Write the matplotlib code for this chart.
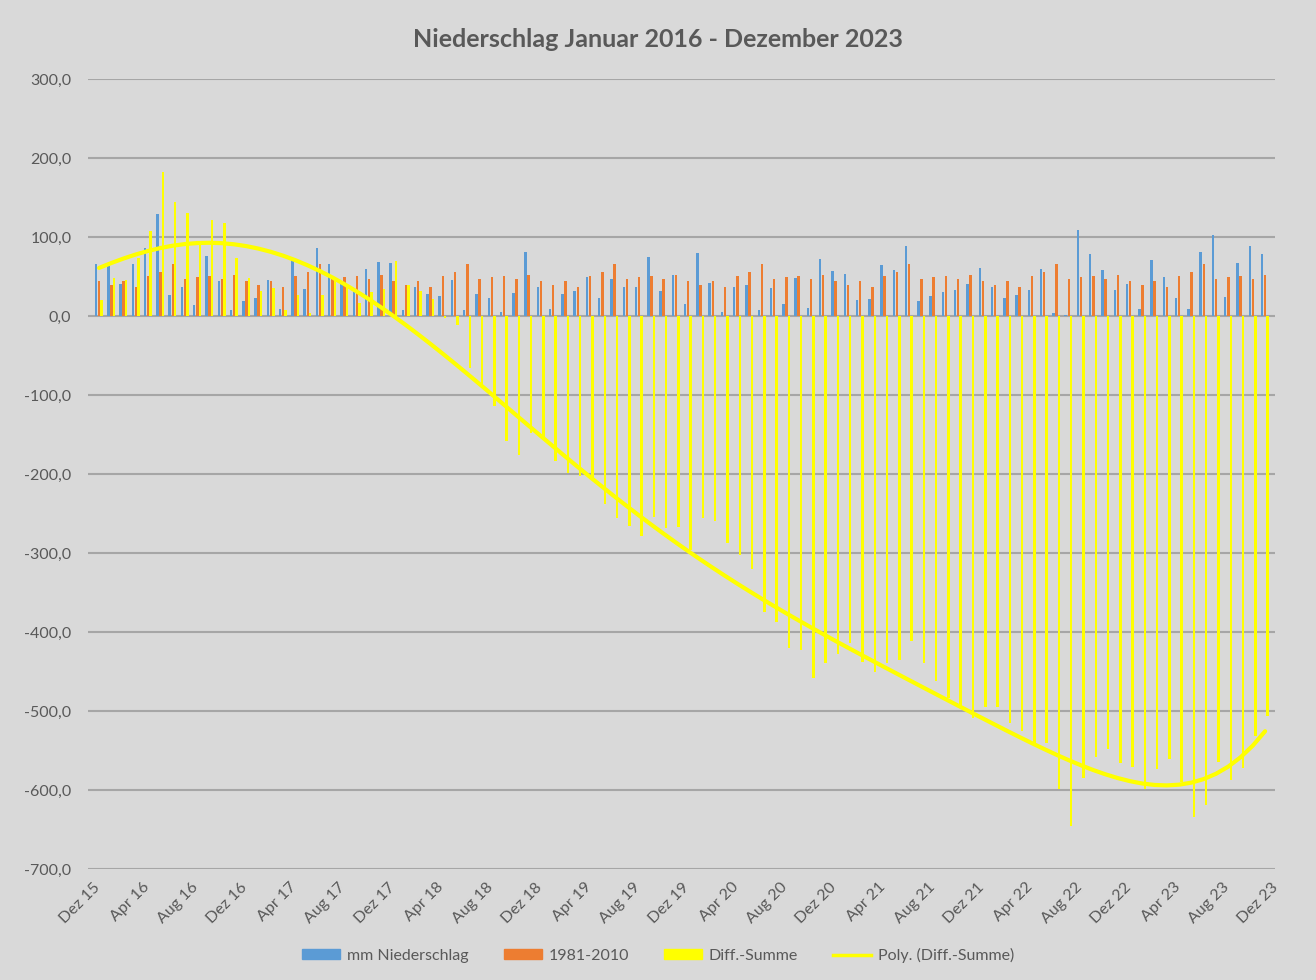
import numpy as np
import matplotlib.pyplot as plt
from matplotlib.ticker import FuncFormatter
from matplotlib.patches import Patch
from matplotlib.lines import Line2D

plt.rcParams['font.family'] = ['Lato', 'DejaVu Sans']

# Monatswerte Jan 2016 - Dez 2023 (mm)
niederschlag = [
    65.7, 63.5, 39.9, 65.7, 85.8, 128.8, 26.6, 36.5, 14.2, 76.4, 43.8, 7.3,
    19.3, 23.2, 45.9, 9.4, 70.8, 33.9, 85.8, 65.7, 39.9, 30.0, 59.2, 67.8,
    66.5, 8.2, 36.5, 27.9, 25.3, 45.9, 8.2, 27.9, 22.3, 5.6, 29.2, 81.1,
    36.5, 9.4, 27.9, 31.3, 49.8, 22.3, 47.2, 36.5, 37.3, 75.1, 32.2, 52.4,
    15.5, 80.3, 41.2, 5.6, 36.5, 38.6, 8.2, 35.2, 15.5, 48.5, 10.7, 72.1,
    57.1, 53.6, 20.6, 21.9, 64.4, 57.9, 88.8, 19.3, 25.3, 30.5, 32.6, 39.9,
    60.5, 37.3, 23.2, 26.6, 32.6, 59.2, 4.3, 1.3, 109.4, 78.5, 57.9, 32.6,
    39.9, 9.4, 70.4, 49.8, 23.2, 9.4, 81.1, 103.0, 24.5, 66.5, 88.8, 78.1,
]

# Mittel 1981-2010 je Monat (Jan..Dez)
mittel_monat = [43.8, 38.6, 43.8, 36.5, 51.0, 55.8, 65.7, 47.2, 49.8, 51.0, 47.2, 52.4]
mittel = mittel_monat * 8

diff_summe = [
    20.2, 48.0, 45.0, 73.8, 108.0, 182.4, 143.8, 130.9, 91.0, 121.5, 118.0, 73.8,
    48.0, 32.2, 35.2, 8.2, 27.0, 4.3, 27.0, 48.0, 36.5, 17.0, 30.0, 34.3,
    69.5, 38.6, 31.0, 21.5, -3.0, -12.0, -66.0, -87.0, -113.6, -158.0, -176.0, -147.5,
    -154.0, -183.5, -199.0, -202.5, -204.7, -238.6, -255.5, -266.0, -278.0, -254.0, -269.0, -267.0,
    -296.6, -255.9, -259.0, -288.0, -303.0, -320.0, -374.8, -388.0, -420.6, -422.7, -458.8, -439.5,
    -427.7, -413.4, -437.4, -451.0, -438.7, -435.3, -412.0, -439.5, -462.0, -484.0, -494.5, -509.0,
    -494.5, -495.4, -515.6, -525.3, -541.8, -540.0, -599.0, -645.0, -585.0, -558.6, -548.0, -566.0,
    -571.0, -599.0, -573.0, -561.0, -589.5, -634.6, -619.0, -564.0, -588.0, -572.0, -532.0, -506.0,
]

tick_labels = []
for year in range(15, 24):
    for m in ["Apr", "Aug", "Dez"]:
        tick_labels.append(f"{m} {year}")
tick_labels = tick_labels[2:]  # beginnt bei Dez 15

x = np.arange(len(niederschlag))
bg = "#D9D9D9"
grey = "#595959"

fig = plt.figure(figsize=(13.16, 9.8), dpi=100, facecolor=bg)
ax = fig.add_axes([0.0669, 0.1133, 0.9019, 0.8061], facecolor=bg)

w = 0.2
ax.bar(x - 0.25, niederschlag, w, color="#5B9BD5", zorder=2)
ax.bar(x, mittel, w, color="#ED7D31", zorder=2)
ax.bar(x + 0.2, diff_summe, w, color="#FFFF00", zorder=2)

# polynomischer Trend wie in Excel (Ordnung 6)
xs = (x + 1) / len(x)
coef = np.polyfit(xs, diff_summe, 6)
ax.plot(x, np.polyval(coef, xs), color="#FFFF00", lw=3, zorder=3,
        solid_capstyle="round")

ax.set_ylim(-700, 300)
ax.set_yticks(range(-700, 301, 100))
ax.yaxis.set_major_formatter(FuncFormatter(lambda v, p: f"{v:.1f}".replace(".", ",")))
ax.set_xlim(-0.9, 95.8)
ax.set_xticks(np.arange(len(tick_labels)) * 4 - 0.5)
ax.set_xticklabels(tick_labels, rotation=45, ha="right", rotation_mode="anchor")

ax.grid(axis="y", color="#A6A6A6", lw=1.5, zorder=0)
ax.set_axisbelow(True)
for s in ax.spines.values():
    s.set_visible(False)
ax.tick_params(axis="both", length=0, colors=grey, labelsize=11.5)
ax.tick_params(axis="y", pad=12)
ax.tick_params(axis="x", pad=8)

fig.text(0.5, 0.96, "Niederschlag Januar 2016 - Dezember 2023", ha="center", va="center",
         fontsize=18, fontweight="bold", color=grey)

handles = [
    Patch(color="#5B9BD5", label="mm Niederschlag"),
    Patch(color="#ED7D31", label="1981-2010"),
    Patch(color="#FFFF00", label="Diff.-Summe"),
    Line2D([], [], color="#FFFF00", lw=2.5, label="Poly. (Diff.-Summe)"),
]
fig.legend(handles=handles, loc="center", bbox_to_anchor=(0.5, 0.025), ncol=4, frameon=False,
           fontsize=11.5, labelcolor=grey, handlelength=2.4, handleheight=0.6,
           columnspacing=2.2, handletextpad=0.4)

fig.savefig("out.png", dpi=100, facecolor=bg)
